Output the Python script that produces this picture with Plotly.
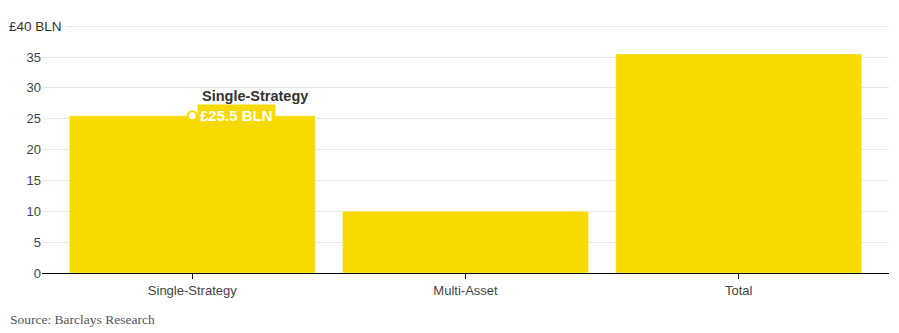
import plotly.graph_objects as go

categories = ["Single-Strategy", "Multi-Asset", "Total"]
values = [25.5, 10, 35.5]
y_ticks = [0, 5, 10, 15, 20, 25, 30, 35, 40]
y_ticktext = ["0", "5", "10", "15", "20", "25", "30", "35", ""]
top_label = "£40 BLN"
highlight_name = "Single-Strategy"
highlight_value = 25.5
highlight_text = "£25.5 BLN"
source = "Source: Barclays Research"

YELLOW = "#F6DA00"

fig = go.Figure()
fig.add_trace(go.Bar(
    x=categories, y=values,
    marker=dict(color=YELLOW, line=dict(color="rgba(255,255,255,0.35)", width=1)),
    hoverinfo="skip", showlegend=False,
))
fig.add_trace(go.Scatter(
    x=[highlight_name], y=[highlight_value], mode="markers",
    marker=dict(size=9, color="white", line=dict(color=YELLOW, width=2)),
    hoverinfo="skip", showlegend=False,
))

fig.add_annotation(
    x=highlight_name, y=highlight_value, xref="x", yref="y",
    text=f"<b>{highlight_text}</b>", showarrow=False,
    xanchor="left", yanchor="middle", xshift=5, yshift=0,
    bgcolor=YELLOW, borderpad=2,
    font=dict(family="Liberation Sans, Arial", size=15, color="white"),
)
fig.add_annotation(
    x=highlight_name, y=highlight_value, xref="x", yref="y",
    text=f"<b>{highlight_name}</b>", showarrow=False,
    xanchor="left", yanchor="middle", xshift=8, yshift=20,
    font=dict(family="Liberation Sans, Arial", size=14.5, color="#333333"),
)
fig.add_annotation(
    x=0, y=40, xref="paper", yref="y",
    text=top_label, showarrow=False,
    xanchor="right", yanchor="middle", xshift=24,
    bgcolor="white", borderpad=3,
    font=dict(family="Liberation Sans, Arial", size=13.5, color="#333333"),
)
fig.add_annotation(
    x=0, y=0, xref="paper", yref="paper",
    text=source, showarrow=False,
    xanchor="left", yanchor="middle", xshift=-34, yshift=-46,
    font=dict(family="Liberation Serif, DejaVu Serif", size=13.5, color="#555555"),
)

fig.update_layout(
    width=899, height=333,
    margin=dict(l=42, r=10, t=25, b=60),
    plot_bgcolor="white", paper_bgcolor="white",
    bargap=0.1,
    font=dict(family="Liberation Sans, Arial", size=13, color="#333333"),
    xaxis=dict(
        range=[-0.55, 2.55], showgrid=False,
        showline=True, linecolor="black", linewidth=1,
        ticks="outside", ticklen=5, tickcolor="black",
        tickfont=dict(size=13, color="#444444"),
        fixedrange=True,
    ),
    yaxis=dict(
        range=[0, 40.2], tickvals=y_ticks, ticktext=y_ticktext,
        showgrid=True, gridcolor="#e6e6e6", gridwidth=1,
        zeroline=False, showline=False, ticks="",
        tickfont=dict(size=13, color="#444444"),
        fixedrange=True,
    ),
)

fig.write_html("out.html")
